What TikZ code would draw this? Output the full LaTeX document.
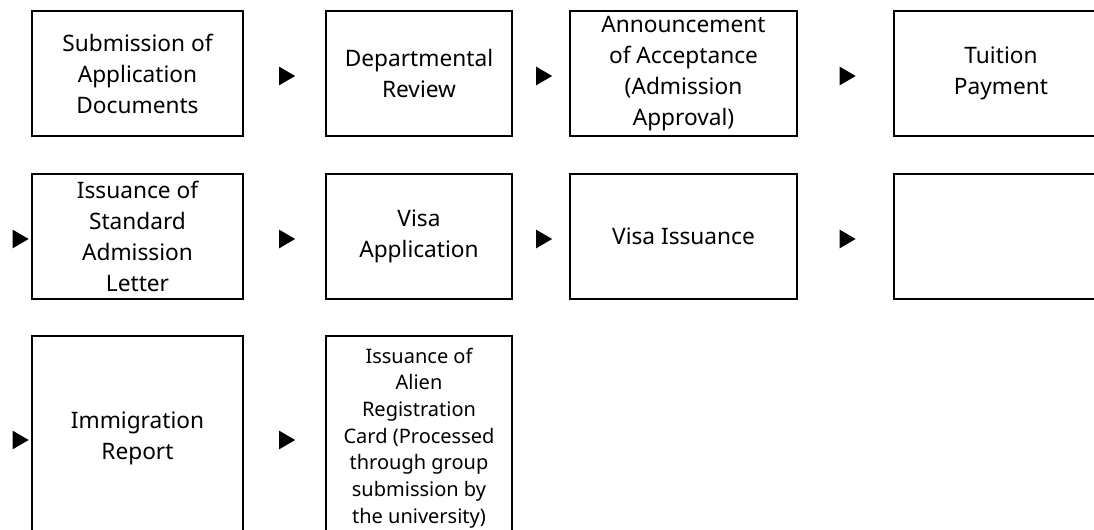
\documentclass[tikz,border=0pt]{standalone}
\usepackage{fontspec}
\setmainfont{Noto Sans}
\usetikzlibrary{shapes.geometric}

\begin{document}
\begin{tikzpicture}[x=0.75pt,y=-0.75pt,
  box/.style={draw,line width=0.8pt,inner sep=0pt,align=center,
    minimum height=93.75pt,font=\fontsize{17}{23.25}\selectfont},
  tri/.style={isosceles triangle,isosceles triangle stretches,fill=black,
    inner sep=0pt,minimum width=14pt,minimum height=12pt}]

  \useasboundingbox (0,0) rectangle (1094,530);
  \clip (0,0) rectangle (1094,530);

  % first row
  \node[box,minimum width=158.25pt] (subm) at (137.5,73.5) {Submission of\\Application\\Documents};
  \node[tri] (t1) at (284.5,76) {};
  \node[box,minimum width=139.5pt] (review) at (419,73.5) {Departmental\\Review};
  \node[tri] (t2) at (541.5,76) {};
  \node[box,minimum width=170.25pt] (accept) at (683.5,73.5) {Announcement\\of Acceptance\\(Admission\\Approval)};
  \node[tri] (t3) at (845,76) {};
  \node[box,minimum width=160.5pt] (tuition) at (1001,73.5) {Tuition\\Payment};

  % second row
  \node[tri] (t4) at (18,239) {};
  \node[box,minimum width=158.25pt] (letter) at (137.5,236.5) {Issuance of\\Standard\\Admission\\Letter};
  \node[tri] (t5) at (284.5,239) {};
  \node[box,minimum width=139.5pt] (visaapp) at (419,236.5) {Visa\\Application};
  \node[tri] (t6) at (541.5,239) {};
  \node[box,minimum width=170.25pt] (visaiss) at (683.5,236.5) {Visa Issuance};
  \node[tri] (t7) at (845,239) {};
  \node[box,minimum width=160.5pt] (empty) at (1001,236.5) {};

  % third row
  \node[tri] (t8) at (18,440) {};
  \node[box,minimum width=158.25pt,minimum height=153pt] (report) at (137.5,438) {Immigration\\Report};
  \node[tri] (t9) at (284.5,440) {};
  \node[box,minimum width=139.5pt,minimum height=153pt,font=\fontsize{15}{20}\selectfont] (card) at (419,438)
    {Issuance of\\Alien\\Registration\\Card (Processed\\through group\\submission by\\the university)};

\end{tikzpicture}
\end{document}
